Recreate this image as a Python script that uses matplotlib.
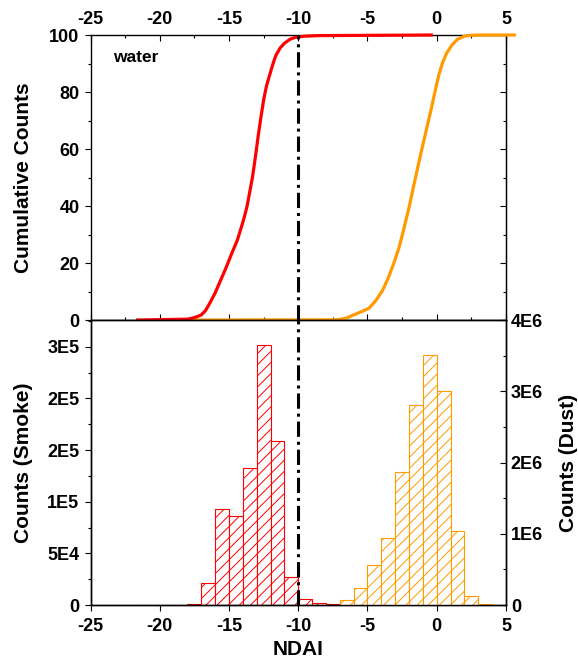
import numpy as np
import matplotlib
matplotlib.use("Agg")
import matplotlib.pyplot as plt
from matplotlib.ticker import MultipleLocator, FixedLocator

plt.rcParams["font.family"] = ["Liberation Sans", "DejaVu Sans"]
plt.rcParams["font.weight"] = "bold"
plt.rcParams["axes.unicode_minus"] = False
plt.rcParams["hatch.linewidth"] = 0.7

RED = "#ff0000"
ORANGE = "#ff9a00"

# cumulative curves (NDAI, percent)
smoke_cum_x = [-21.6, -18.0, -17.7, -17.4, -17.0, -16.7, -16.4, -16.0, -15.6,
               -15.2, -14.8, -14.4, -14.1, -13.9, -13.7, -13.5, -13.3, -13.1,
               -12.9, -12.7, -12.5, -12.3, -12.1, -11.8, -11.6, -11.3, -11.0,
               -10.6, -10.2, -9.5, -8.5, -0.4]
smoke_cum_y = [0, 0.3, 0.6, 1.0, 1.8, 3.3, 5.8, 9.5, 14,
               18.5, 23.4, 28, 32.7, 36, 39.8, 45, 50.3, 57,
               64.3, 71, 77.2, 82, 85.4, 90.3, 93, 95.5, 97.1,
               98.5, 99.2, 99.6, 99.8, 100]
dust_cum_x = [-17.8, -7.5, -7.0, -6.5, -6.0, -5.5, -4.9, -4.4, -3.9, -3.5,
              -3.1, -2.7, -2.4, -2.0, -1.7, -1.2, -0.7, -0.4, -0.1, 0.15,
              0.4, 0.7, 1.1, 1.5, 2.0, 2.5, 3.1, 5.6]
dust_cum_y = [0, 0.05, 0.2, 0.7, 1.8, 2.8, 4.1, 6.8, 10.5, 14.8,
              19.9, 25.8, 31.5, 39.5, 46.3, 57.3, 67.8, 74, 80.7, 86,
              90, 93.5, 96.5, 98.5, 99.6, 99.9, 100, 100]

# histograms, 1-unit NDAI bins (left edges)
smoke_bins = [-22, -21, -20, -19, -18, -17, -16, -15, -14, -13, -12, -11, -10, -9, -8]
smoke_counts = [150, 200, 300, 350, 600, 21000, 92500, 86000, 133000,
                252000, 158500, 26800, 5500, 1700, 700]
dust_bins = [-8, -7, -6, -5, -4, -3, -2, -1, 0, 1, 2, 3]
dust_counts = [3000, 65000, 235000, 566000, 945000, 1862000, 2803000,
               3514000, 3000000, 1044000, 126000, 10000]

smoke_ticks = [0, 5e4, 1e5, 1.5e5, 2e5, 2.5e5]
smoke_ticklabels = ["0", "5E4", "1E5", "2E5", "2E5", "3E5"]
dust_ticks = [0, 1e6, 2e6, 3e6, 4e6]
dust_ticklabels = ["0", "1E6", "2E6", "3E6", "4E6"]

threshold = -10

FS = 13
LFS = 15

fig = plt.figure(figsize=(5.78, 6.62), dpi=100)
ax1 = fig.add_axes([0.1566, 0.5166, 0.7188, 0.4305])
ax2 = fig.add_axes([0.1566, 0.0861, 0.7188, 0.4305])


def style_spines(ax):
    for s in ax.spines.values():
        s.set_linewidth(1.0)


def style_ticks(ax):
    ax.tick_params(which="major", length=4.5, width=0.8)
    ax.tick_params(which="minor", length=2.3, width=0.8)


# ---- top panel: cumulative counts ----
ax1.plot(dust_cum_x, dust_cum_y, color=ORANGE, lw=2.3, clip_on=False, zorder=4)
ax1.plot(smoke_cum_x, smoke_cum_y, color=RED, lw=2.3, clip_on=False, zorder=5)
ax1.axvline(threshold, color="black", lw=2.2, dashes=(5, 1.6, 1, 1.6), zorder=6)
ax1.text(-23.4, 92, "water", fontsize=12.5, fontweight="bold", va="center", ha="left")
ax1.set_xlim(-25, 5)
ax1.set_ylim(0, 100)
ax1.xaxis.set_major_locator(MultipleLocator(5))
ax1.xaxis.set_minor_locator(MultipleLocator(2.5))
ax1.yaxis.set_major_locator(MultipleLocator(20))
ax1.yaxis.set_minor_locator(MultipleLocator(10))
ax1.tick_params(axis="x", which="both", top=True, bottom=True, labeltop=True,
                labelbottom=False, direction="in", labelsize=FS, pad=5)
ax1.tick_params(axis="y", which="both", left=True, right=False, direction="out",
                labelsize=FS)
style_ticks(ax1)
ax1.set_ylabel("Cumulative Counts", fontsize=LFS, fontweight="bold")
ax1.yaxis.set_label_coords(-0.139, 0.5)
style_spines(ax1)

sec = ax1.secondary_yaxis("right")
sec.yaxis.set_major_locator(MultipleLocator(20))
sec.yaxis.set_minor_locator(MultipleLocator(10))
sec.tick_params(which="both", direction="in", labelright=False)
style_ticks(sec)

# ---- bottom panel: histograms ----
ax2.bar(smoke_bins, smoke_counts, width=1, align="edge", facecolor="white",
        edgecolor=RED, lw=0.8, hatch="///")
ax2.set_xlim(-25, 5)
ax2.set_ylim(0, 2.758e5)
ax2.xaxis.set_major_locator(MultipleLocator(5))
ax2.yaxis.set_major_locator(FixedLocator(smoke_ticks))
ax2.set_yticklabels(smoke_ticklabels)
ax2.yaxis.set_minor_locator(MultipleLocator(2.5e4))
ax2.tick_params(axis="x", which="both", top=False, bottom=True, direction="out",
                labelsize=FS, pad=5)
ax2.tick_params(axis="y", which="both", left=True, right=False, direction="out",
                labelsize=FS)
style_ticks(ax2)
ax2.set_xlabel("NDAI", fontsize=LFS, fontweight="bold")
ax2.xaxis.set_label_coords(0.5, -0.123)
ax2.set_ylabel("Counts (Smoke)", fontsize=LFS, fontweight="bold")
ax2.yaxis.set_label_coords(-0.139, 0.5)
style_spines(ax2)

ax3 = ax2.twinx()
ax3.bar(dust_bins, dust_counts, width=1, align="edge", facecolor="white",
        edgecolor=ORANGE, lw=0.8, hatch="///")
ax3.axvline(threshold, color="black", lw=2.2, dashes=(5, 1.6, 1, 1.6), zorder=6)
ax3.set_ylim(0, 4e6)
ax3.yaxis.set_major_locator(FixedLocator(dust_ticks))
ax3.set_yticklabels(dust_ticklabels)
ax3.yaxis.set_minor_locator(MultipleLocator(5e5))
ax3.tick_params(axis="y", which="both", direction="in", labelsize=FS)
style_ticks(ax3)
ax3.set_ylabel("Counts (Dust)", fontsize=LFS, fontweight="bold")
ax3.yaxis.set_label_coords(1.127, 0.5)
style_spines(ax3)

fig.savefig("out.png", dpi=100)
